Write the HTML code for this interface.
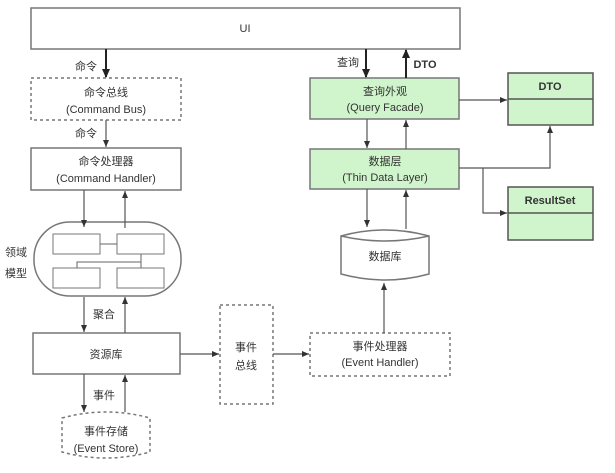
<!DOCTYPE html>
<html><head><meta charset="utf-8"><style>
body{margin:0;background:#fff;}
svg text{font-family:"Liberation Sans","Noto Sans CJK SC",sans-serif;font-size:11px;fill:#333;}
</style></head><body>
<svg width="615" height="468" viewBox="0 0 615 468" xmlns="http://www.w3.org/2000/svg">
<defs>
<marker id="a" markerWidth="8" markerHeight="8" refX="7" refY="4" orient="auto" markerUnits="userSpaceOnUse"><path d="M0,1 L7,4 L0,7 Z" fill="#333"/></marker>
<marker id="b" markerWidth="10" markerHeight="10" refX="8" refY="5" orient="auto" markerUnits="userSpaceOnUse"><path d="M0,1 L9,5 L0,9 Z" fill="#222"/></marker>
</defs>
<g stroke="#777" stroke-width="1.5" fill="#fff">
<rect x="31" y="8" width="429" height="41"/>
<rect x="31" y="78" width="150" height="42" stroke-dasharray="3,3"/>
<rect x="31" y="148" width="150" height="42"/>
<path d="M70,222 H145 A36,36 0 0 1 181,258 V262 A36,36 0 0 1 145,296 H70 A36,36 0 0 1 34,262 V258 A36,36 0 0 1 70,222 Z"/>
<rect x="53" y="234" width="47" height="20" stroke-width="1"/>
<rect x="117" y="234" width="47" height="20" stroke-width="1"/>
<rect x="53" y="268" width="47" height="20" stroke-width="1"/>
<rect x="117" y="268" width="47" height="20" stroke-width="1"/>
<rect x="33" y="333" width="147" height="41"/>
<path d="M62,418 Q106,406 150,418 V452 Q106,464 62,452 Z" stroke-dasharray="3,3"/>
<rect x="220" y="305" width="53" height="99" stroke-dasharray="3,3"/>
<rect x="310" y="333" width="140" height="43" stroke-dasharray="3,3"/>
<path d="M341,236 Q385,224 429,236 V274 Q385,286 341,274 Z"/>
<path d="M341,236 Q385,246 429,236" fill="none"/>
<rect x="310" y="78" width="149" height="41" fill="#d0f5cc"/>
<rect x="310" y="149" width="149" height="40" fill="#d0f5cc"/>
<rect x="508" y="73" width="85" height="52" fill="#d0f5cc" stroke="#555"/>
<line x1="508" y1="99" x2="593" y2="99" stroke="#555"/>
<rect x="508" y="187" width="85" height="53" fill="#d0f5cc" stroke="#555"/>
<line x1="508" y1="213" x2="593" y2="213" stroke="#555"/>
</g>
<g stroke="#666" stroke-width="1" fill="none">
<path d="M100,244 H117 M141,254 V268 M141,262 H77 V268"/>
</g>
<g stroke="#555" stroke-width="1.2" fill="none" marker-end="url(#a)">
<line x1="106" y1="120" x2="106" y2="147"/>
<line x1="84" y1="190" x2="84" y2="227"/>
<line x1="125" y1="228" x2="125" y2="191"/>
<line x1="84" y1="297" x2="84" y2="332"/>
<line x1="125" y1="333" x2="125" y2="297"/>
<line x1="84" y1="374" x2="84" y2="412"/>
<line x1="125" y1="412" x2="125" y2="375"/>
<line x1="180" y1="354" x2="219" y2="354"/>
<line x1="273" y1="354" x2="309" y2="354"/>
<line x1="384" y1="333" x2="384" y2="283"/>
<line x1="367" y1="119" x2="367" y2="148"/>
<line x1="406" y1="149" x2="406" y2="120"/>
<line x1="367" y1="189" x2="367" y2="227"/>
<line x1="406" y1="229" x2="406" y2="190"/>
<line x1="459" y1="100" x2="507" y2="100"/>
<path d="M459,168 H550 V126"/>
<path d="M483,168 V213 H507"/>
</g>
<g stroke="#222" stroke-width="2" fill="none" marker-end="url(#b)">
<line x1="106" y1="49" x2="106" y2="77"/>
<line x1="366" y1="49" x2="366" y2="77"/>
<line x1="406" y1="78" x2="406" y2="50"/>
</g>
<g text-anchor="middle">
<text x="245" y="32">UI</text>
<text x="86" y="70">命令</text>
<text x="106" y="96">命令总线</text>
<text x="106" y="113">(Command Bus)</text>
<text x="86" y="137">命令</text>
<text x="106" y="165">命令处理器</text>
<text x="106" y="182">(Command Handler)</text>
<text x="16" y="256">领域</text>
<text x="16" y="277">模型</text>
<text x="104" y="318">聚合</text>
<text x="106" y="358">资源库</text>
<text x="104" y="399">事件</text>
<text x="106" y="435">事件存储</text>
<text x="106" y="452">(Event Store)</text>
<text x="246" y="351">事件</text>
<text x="246" y="369">总线</text>
<text x="380" y="350">事件处理器</text>
<text x="380" y="366">(Event Handler)</text>
<text x="385" y="260">数据库</text>
<text x="348" y="66">查询</text>
<text x="425" y="68" font-weight="bold">DTO</text>
<text x="385" y="95">查询外观</text>
<text x="385" y="111">(Query Facade)</text>
<text x="385" y="165">数据层</text>
<text x="385" y="181">(Thin Data Layer)</text>
<text x="550" y="90" font-weight="bold" font-size="10">DTO</text>
<text x="550" y="204" font-weight="bold" font-size="10">ResultSet</text>
</g>
</svg>
</body></html>
